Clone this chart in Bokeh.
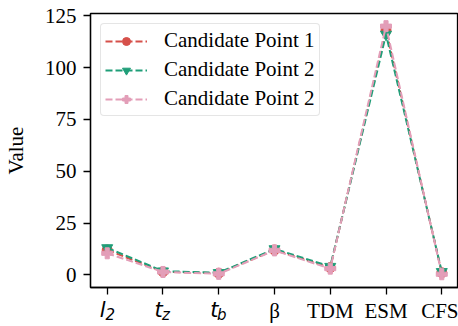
from bokeh.plotting import figure
from bokeh.models import Range1d, FixedTicker, Legend, LegendItem, LinearAxis
from bokeh.embed import file_html
from bokeh.resources import INLINE

categories = ["l2", "tz", "tb", "β", "TDM", "ESM", "CFS"]
tick_labels = ["", "", "", "β", "TDM", "ESM", "CFS"]
math_main = ["l", "t", "t"]
math_sub = ["2", "z", "b"]
cand1 = [12.0, 1.5, 0.8, 12.0, 3.5, 118.0, 1.0]
cand2 = [13.0, 1.8, 1.0, 12.5, 4.0, 116.0, 1.5]
cand3 = [10.4, 1.4, 0.5, 11.8, 3.0, 120.0, 0.3]
series_names = ["Candidate Point 1", "Candidate Point 2", "Candidate Point 2"]
colors = ["#d6504a", "#1f9e78", "#e39eb8"]
markers = ["circle", "inverted_triangle", "plus"]
msizes = [10, 11, 11]
y_ticks = [0, 25, 50, 75, 100, 125]

xs = list(range(len(categories)))
X0, X1 = -0.3, 6.3
PX_PER_UNIT = 56.3

p = figure(width=458, height=326, output_backend="svg", toolbar_location=None,
           x_range=Range1d(X0, X1), y_range=Range1d(-6.1, 126.1),
           min_border_left=86, min_border_right=0, min_border_top=13, min_border_bottom=39)
p.background_fill_color = "white"
p.border_fill_color = "white"
p.grid.visible = False
p.outline_line_color = "black"
p.outline_line_width = 1.3

FONT = "Liberation Serif"
for ax in (p.xaxis[0], p.yaxis[0]):
    ax.axis_line_width = 1.3
    ax.major_tick_line_width = 1.3
    ax.major_tick_out = 7
    ax.major_tick_in = 0
    ax.minor_tick_out = 0
    ax.minor_tick_in = 0
    ax.major_label_text_font = FONT
    ax.major_label_text_font_size = "21px"
    ax.major_label_text_color = "black"
    ax.major_label_standoff = 7

p.xaxis.ticker = FixedTicker(ticks=xs)
p.xaxis.major_label_overrides = {i: t for i, t in enumerate(tick_labels)}
p.xaxis.major_label_standoff = 4
p.yaxis.ticker = FixedTicker(ticks=y_ticks)
p.yaxis.axis_label = "Value"
p.yaxis.axis_label_text_font = FONT
p.yaxis.axis_label_text_font_size = "21px"
p.yaxis.axis_label_text_font_style = "normal"
p.yaxis.axis_label_text_color = "black"
p.yaxis.axis_label_standoff = 14

# math-style tick labels (l_2, t_z, t_b) drawn by two extra label-only axes
dm = 4.5 / PX_PER_UNIT   # main letter sits slightly left of the tick
ds = -3.0 / PX_PER_UNIT  # subscript sits slightly right of the tick
p.extra_x_ranges = {"mainlbl": Range1d(X0 + dm, X1 + dm), "sublbl": Range1d(X0 + ds, X1 + ds)}

ax_main = LinearAxis(x_range_name="mainlbl", ticker=FixedTicker(ticks=xs[:3]),
                     major_label_overrides={i: t for i, t in enumerate(math_main)})
ax_sub = LinearAxis(x_range_name="sublbl", ticker=FixedTicker(ticks=xs[:3]),
                    major_label_overrides={i: t for i, t in enumerate(math_sub)})
for ax, size, st in ((ax_main, "21px", -28), (ax_sub, "15px", -20)):
    ax.axis_line_color = None
    ax.major_tick_line_color = None
    ax.minor_tick_line_color = None
    ax.major_tick_out = 0
    ax.major_tick_in = 0
    ax.minor_tick_out = 0
    ax.minor_tick_in = 0
    ax.major_label_text_font = "DejaVu Sans"
    ax.major_label_text_font_style = "italic"
    ax.major_label_text_font_size = size
    ax.major_label_text_color = "black"
    ax.major_label_standoff = st
    p.add_layout(ax, "below")

items = []
for vals, name, c, m, s in zip([cand1, cand2, cand3], series_names, colors, markers, msizes):
    ln = p.line(xs, vals, line_color=c, line_width=2, line_dash="7 3")
    sc = p.scatter(xs, vals, marker=m, size=s, fill_color=c, line_color=c, line_width=1)
    items.append(LegendItem(label=name, renderers=[ln, sc]))

legend = Legend(items=items, location="top_left")
legend.label_text_font = FONT
legend.label_text_font_size = "21px"
legend.label_text_color = "black"
legend.glyph_width = 42
legend.glyph_height = 20
legend.label_height = 20
legend.spacing = 4
legend.padding = 4
legend.margin = 10
legend.label_standoff = 17
legend.border_line_color = "#cccccc"
legend.border_line_width = 1.5
legend.border_radius = 4
legend.background_fill_alpha = 0.8
p.add_layout(legend, "center")

open("out.html", "w").write(file_html(p, INLINE))
